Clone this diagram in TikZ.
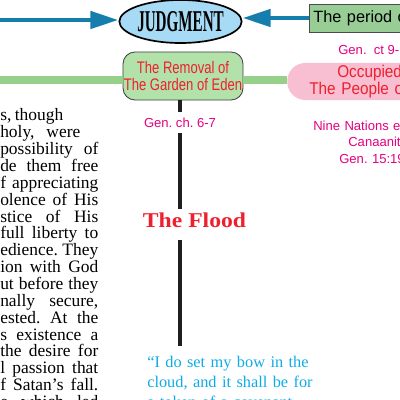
\documentclass[tikz,border=0pt]{standalone}
\usepackage{fontspec}
\setmainfont{Liberation Serif}
\setsansfont{Liberation Sans}
\newfontfamily\narrowsans[FakeStretch=0.78]{Liberation Sans}
\newfontfamily\occsans[FakeStretch=0.9]{Liberation Sans}
\newfontfamily\judgefont[FakeStretch=0.5]{Liberation Serif Bold}
\newfontfamily\floodfont[FakeStretch=1.12]{Liberation Serif Bold}
\usetikzlibrary{arrows.meta,positioning,calc,shapes.geometric}
\definecolor{judgeblue}{RGB}{22,126,172}
\definecolor{ovalblue}{RGB}{166,218,245}
\definecolor{boxgreen}{RGB}{152,206,150}
\definecolor{edengreen}{RGB}{178,225,170}
\definecolor{bandgreen}{RGB}{150,208,138}
\definecolor{titlered}{RGB}{238,32,46}
\definecolor{refmagenta}{RGB}{228,0,128}
\definecolor{occpink}{RGB}{248,190,210}
\definecolor{quotecyan}{RGB}{14,172,230}
\tikzset{
  judgearrow/.style={judgeblue,line width=3.5pt,-{Triangle[length=0.7cm,width=0.42cm]}},
  band/.style={bandgreen,line width=5pt},
  stem/.style={black!88,line width=3.5pt},
  refnote/.style={refmagenta,font=\sffamily\fontsize{9.3}{11.7}\selectfont,inner sep=0pt},
}
% justified line of the body text
\newcommand{\bline}[2]{{\spaceskip=0pt\xspaceskip=0pt\makebox[#1][s]{#2}}}
\lineskiplimit=-10pt
\frenchspacing
\begin{document}
\begin{tikzpicture}[x=0.025cm,y=-0.025cm]
\useasboundingbox (0,0) rectangle (400,400);
\clip (0,0) rectangle (400,400);
% nodes
\node[ellipse,draw=black,line width=1.2pt,fill=ovalblue,minimum width=2.525cm,minimum height=1.075cm,inner sep=0pt,
  font=\judgefont\fontsize{21.5}{22}\selectfont] (judg) at (180.5,21.5) {JUDGMENT};
\node[anchor=west,draw=black!70,line width=0.6pt,fill=boxgreen,minimum height=0.7cm,minimum width=3cm,
  text width=2.8cm,align=left,inner xsep=0.1cm,font=\sffamily\fontsize{11.6}{12}\selectfont] (period) at (309,18) {The period of};
\node[draw=black!75,line width=0.6pt,fill=edengreen,rounded corners=0.3cm,minimum width=3cm,minimum height=1.2cm,
  inner sep=0pt,align=center,text=titlered,font=\narrowsans\fontsize{11.9}{12.1}\selectfont] (eden) at (183,76)
  {The Removal of\\The Garden of Eden};
\node[anchor=west,fill=occpink,rounded corners=0.45cm,minimum width=4cm,minimum height=0.925cm,
  text width=3.4cm,align=left,inner xsep=0.55cm,inner ysep=0pt,text=titlered,font=\occsans\fontsize{12.1}{12.1}\selectfont] (occ) at (287,81.5)
  {\hspace*{0.7cm}Occupied\\The People of};
\node[refnote,anchor=base west] (genct) at (338,54.5) {Gen.\ \ ct 9-};
\node[refnote,inner ysep=4.1pt] (gench) at (180,122.5) {Gen. ch. 6-7};
\node[refnote,anchor=base west,text width=3cm,align=left] (nations) at (313,130.5)
  {Nine Nations e\\\hspace*{0.875cm}Canaanit\\\hspace*{0.65cm}Gen. 15:19};
\node[anchor=base,text=titlered,inner xsep=0pt,inner ysep=2.1pt,text depth=7.1pt,
  font=\floodfont\fontsize{15}{15}\selectfont] (flood) at (194.5,227) {The Flood};
\node[anchor=north west,text=quotecyan,text width=6cm,align=left,inner xsep=0pt,inner ysep=7.1pt,
  font=\fontsize{11.6}{14.2}\selectfont] (quote) at (147,345.5)
  {``I do set my bow in the\\cloud, and it shall be for\\a token of a covenant};
\node[anchor=base west,text width=2.5cm,align=left,inner sep=0pt,font=\fontsize{12.4}{11.98}\selectfont] (story) at (0,121)
  {\bline{1.575cm}{s, though}\\
   \bline{2cm}{holy, were}\\
   \bline{2.45cm}{possibility of}\\
   \bline{2.45cm}{de them free}\\
   \bline{2.45cm}{f appreciating}\\
   \bline{2.45cm}{olence of His}\\
   \bline{2.45cm}{stice of His}\\
   \bline{2.45cm}{full liberty to}\\
   \bline{2.45cm}{edience. They}\\
   \bline{2.45cm}{ion with God}\\
   \bline{2.45cm}{ut before they}\\
   \bline{2.45cm}{nally secure,}\\
   \bline{2.45cm}{ested. At the}\\
   \bline{2.45cm}{s existence a}\\
   \bline{2.45cm}{the desire for}\\
   \bline{2.45cm}{l passion that}\\
   \bline{2.45cm}{f Satan’s fall.}\\
   \bline{2.45cm}{e which led}};
% connectors
\coordinate (arrL) at (0,20);
\coordinate (bandL) at (0,80);
\draw[judgearrow] (arrL) -- (arrL -| judg.west);
\draw[judgearrow] (period.west) -- (period.west -| judg.east);
\draw[band] (bandL) -- (bandL -| eden.west);
\draw[band] (eden.east |- bandL) -- (occ.west |- bandL);
\draw[stem] (gench.north |- eden.south) -- (gench.north);
\draw[stem] (gench.south) -- (gench.south |- flood.north);
\draw[stem] (gench.south |- flood.south) -- (gench.south |- quote.north);
\end{tikzpicture}
\end{document}
